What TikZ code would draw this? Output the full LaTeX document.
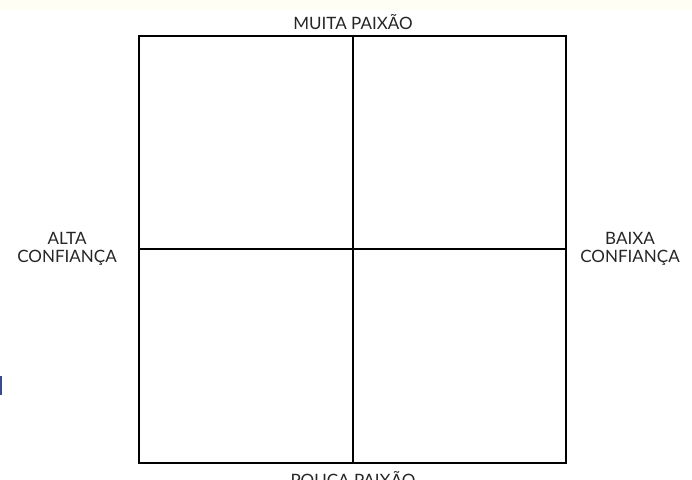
\documentclass[tikz,border=0pt]{standalone}
\usepackage{fontspec}
\setmainfont{Lato}
\definecolor{topstrip}{HTML}{FFFEF4}
\definecolor{bluebar}{HTML}{3A4A8C}
\begin{document}
\begin{tikzpicture}[x=1pt,y=-1pt,
  gridline/.style={line width=2.2pt,black},
  lbl/.style={font=\fontsize{17}{18.5}\selectfont,text=black!85,align=center,inner sep=0pt}]
\useasboundingbox (0,0) rectangle (692,479);
\clip (0,0) rectangle (692,479);
\fill[white] (0,0) rectangle (692,479);
\fill[topstrip] (0,0) rectangle (692,10);
\fill[bluebar] (0,376) rectangle (2,395);
\coordinate (tl) at (139,36);
\coordinate (br) at (566,463);
\coordinate (tm) at (353,36);
\coordinate (bm) at (353,463);
\coordinate (lm) at (139,249);
\coordinate (rm) at (566,249);
\draw[gridline] (tl) rectangle (br);
\draw[gridline] (tm) -- (bm);
\draw[gridline] (lm) -- (rm);
\node[lbl] (top) at (353,22) {MUITA PAIXÃO};
\node[lbl] (bottom) at (353,479) {POUCA PAIXÃO};
\node[lbl] (left) at (67,249) {ALTA\\CONFIANÇA};
\node[lbl] (right) at (630,249) {BAIXA\\CONFIANÇA};
\end{tikzpicture}
\end{document}
